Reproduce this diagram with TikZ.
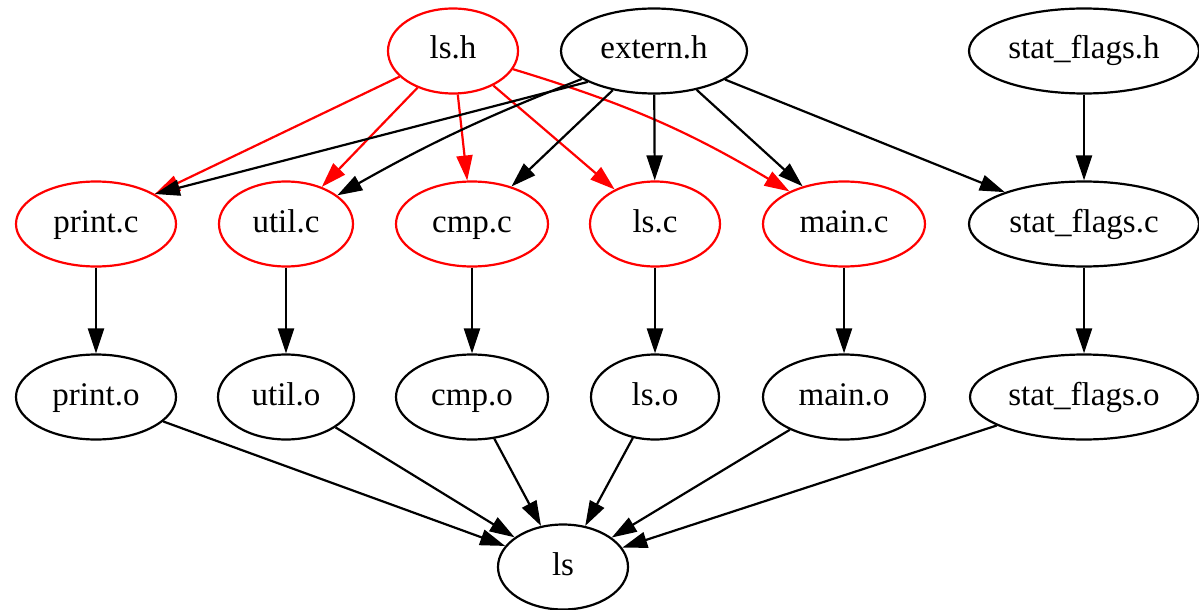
\documentclass[tikz,border=0pt]{standalone}
\usepackage{fontspec}
\setmainfont{Liberation Serif}
\usetikzlibrary{arrows.meta,shapes.geometric}
\begin{document}
\begin{tikzpicture}[x=0.5pt,y=-0.5pt,
  nd/.style={draw=black,ellipse,line width=1.1pt,inner sep=0pt,minimum height=42.5pt,
    text height=11.5pt,text depth=3.5pt,font=\fontsize{16.5}{20}\selectfont},
  rednd/.style={nd,draw=red},
  ed/.style={line width=1.1pt,-{Triangle[length=12.5pt,width=8pt]}},
  reded/.style={ed,draw=red}]
\useasboundingbox (0,0) rectangle (1199,610);
% row 1
\node[rednd,minimum width=65pt] (lsh) at (453,51) {ls.h};
\node[nd,minimum width=93pt] (exth) at (654,51) {extern.h};
\node[nd,minimum width=115pt] (sfh) at (1084,51) {stat\_flags.h};
% row 2
\node[rednd,minimum width=80pt] (printc) at (96,224) {print.c};
\node[rednd,minimum width=67pt] (utilc) at (286,224) {util.c};
\node[rednd,minimum width=76pt] (cmpc) at (472,224) {cmp.c};
\node[rednd,minimum width=65pt] (lsc) at (655,224) {ls.c};
\node[rednd,minimum width=81pt] (mainc) at (844,224) {main.c};
\node[nd,minimum width=115pt] (sfc) at (1084,224) {stat\_flags.c};
% row 3
\node[nd,minimum width=80pt] (printo) at (96,397) {print.o};
\node[nd,minimum width=68pt] (utilo) at (286,397) {util.o};
\node[nd,minimum width=76pt] (cmpo) at (472,397) {cmp.o};
\node[nd,minimum width=64pt] (lso) at (655,397) {ls.o};
\node[nd,minimum width=81pt] (maino) at (844,397) {main.o};
\node[nd,minimum width=114pt] (sfo) at (1084,397) {stat\_flags.o};
% row 4
\node[nd,minimum width=65pt] (ls) at (563,567) {ls};
% edges from ls.h
\draw[reded] (lsh) -- (printc.27);
\draw[reded] (lsh) -- (utilc);
\draw[reded] (lsh) -- (cmpc);
\draw[reded] (lsh) -- (lsc);
\draw[reded] (lsh) to[bend left=7] (mainc);
% edges from extern.h
\draw[ed] (exth.205) -- (printc.27);
\draw[ed] (exth) to[bend right=4] (utilc);
\draw[ed] (exth) -- (cmpc);
\draw[ed] (exth) -- (lsc);
\draw[ed] (exth) -- (mainc);
\draw[ed] (exth) -- (sfc);
\draw[ed] (sfh) -- (sfc);
% .c -> .o
\draw[ed] (printc) -- (printo);
\draw[ed] (utilc) -- (utilo);
\draw[ed] (cmpc) -- (cmpo);
\draw[ed] (lsc) -- (lso);
\draw[ed] (mainc) -- (maino);
\draw[ed] (sfc) -- (sfo);
% .o -> ls
\draw[ed] (printo) -- (ls);
\draw[ed] (utilo) -- (ls);
\draw[ed] (cmpo) -- (ls);
\draw[ed] (lso) -- (ls);
\draw[ed] (maino) -- (ls);
\draw[ed] (sfo) -- (ls);
\end{tikzpicture}
\end{document}
